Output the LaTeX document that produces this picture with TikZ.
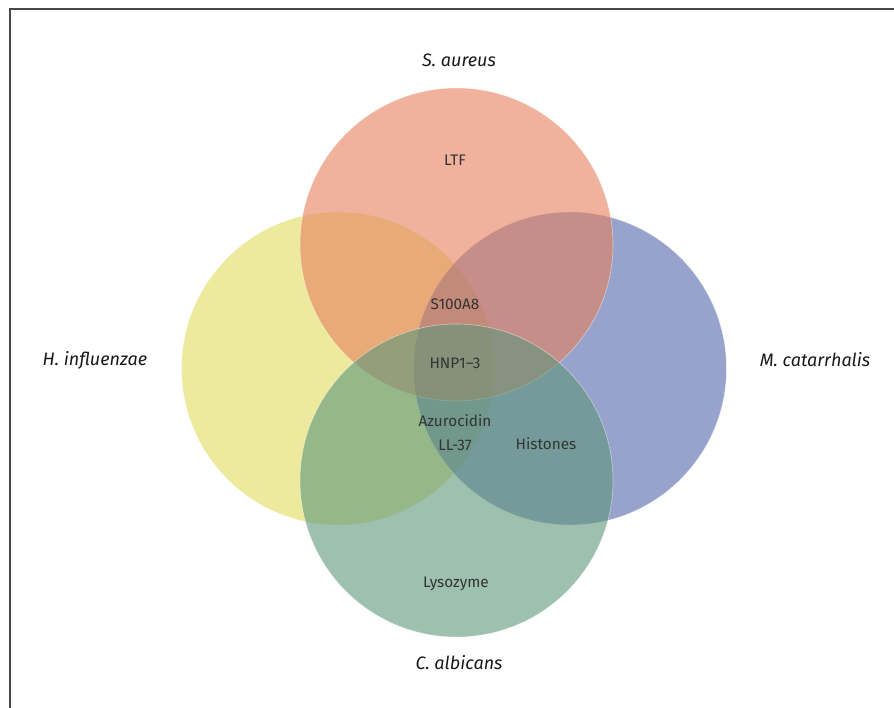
\documentclass[tikz,border=0pt]{standalone}
\usepackage{fontspec}
\setmainfont{Fira Sans}
\begin{document}
\begin{tikzpicture}[x=1pt,y=-1pt,
  vset/.style={circle, minimum size=313pt, inner sep=0pt, fill opacity=0.6, draw=white, draw opacity=0.5, line width=0.6pt},
  lbl/.style={text=black!80, font=\fontsize{15.3}{17}\selectfont, inner sep=0pt},
  sp/.style={text=black!90, font=\fontsize{18}{20}\selectfont\itshape, inner sep=0pt}]
\definecolor{cyel}{RGB}{237,233,157}
\definecolor{cblu}{RGB}{82,103,170}
\definecolor{cgrn}{RGB}{93,150,122}
\definecolor{csal}{RGB}{230,128,93}
\useasboundingbox (0,0) rectangle (894,708);
\fill[white] (0,0) rectangle (894,708);
\coordinate (tl) at (9.5,9.5);
\coordinate (tr) at (894,9.5);
\coordinate (bl) at (9.5,708);
\draw[line width=2pt, black!72] (tr) -- (tl) -- (bl);
% circles
\node[vset, fill=cyel, fill opacity=1] (hi) at (338,368.5) {};
\node[vset, fill=cblu] (mc) at (570,368.5) {};
\node[vset, fill=csal] (sa) at (456.5,244.5) {};
\node[vset, fill=cgrn] (ca) at (456.5,480.5) {};
% labels
\node[sp] (tsa) at (459,60) {S. aureus};
\node[sp] (tca) at (459,663) {C. albicans};
\node[sp] (thi) at (95,360) {H. influenzae};
\node[sp] (tmc) at (815,360) {M. catarrhalis};
\node[lbl] (ltf) at (455,160) {LTF};
\node[lbl] (s100) at (455,304) {S100A8};
\node[lbl] (hnp) at (455,363) {HNP1--3};
\node[lbl] (azu) at (455,421) {Azurocidin};
\node[lbl] (ll) at (455,445) {LL-37};
\node[lbl] (his) at (546,444) {Histones};
\node[lbl] (lys) at (456,584) {Lysozyme};
\end{tikzpicture}
\end{document}
